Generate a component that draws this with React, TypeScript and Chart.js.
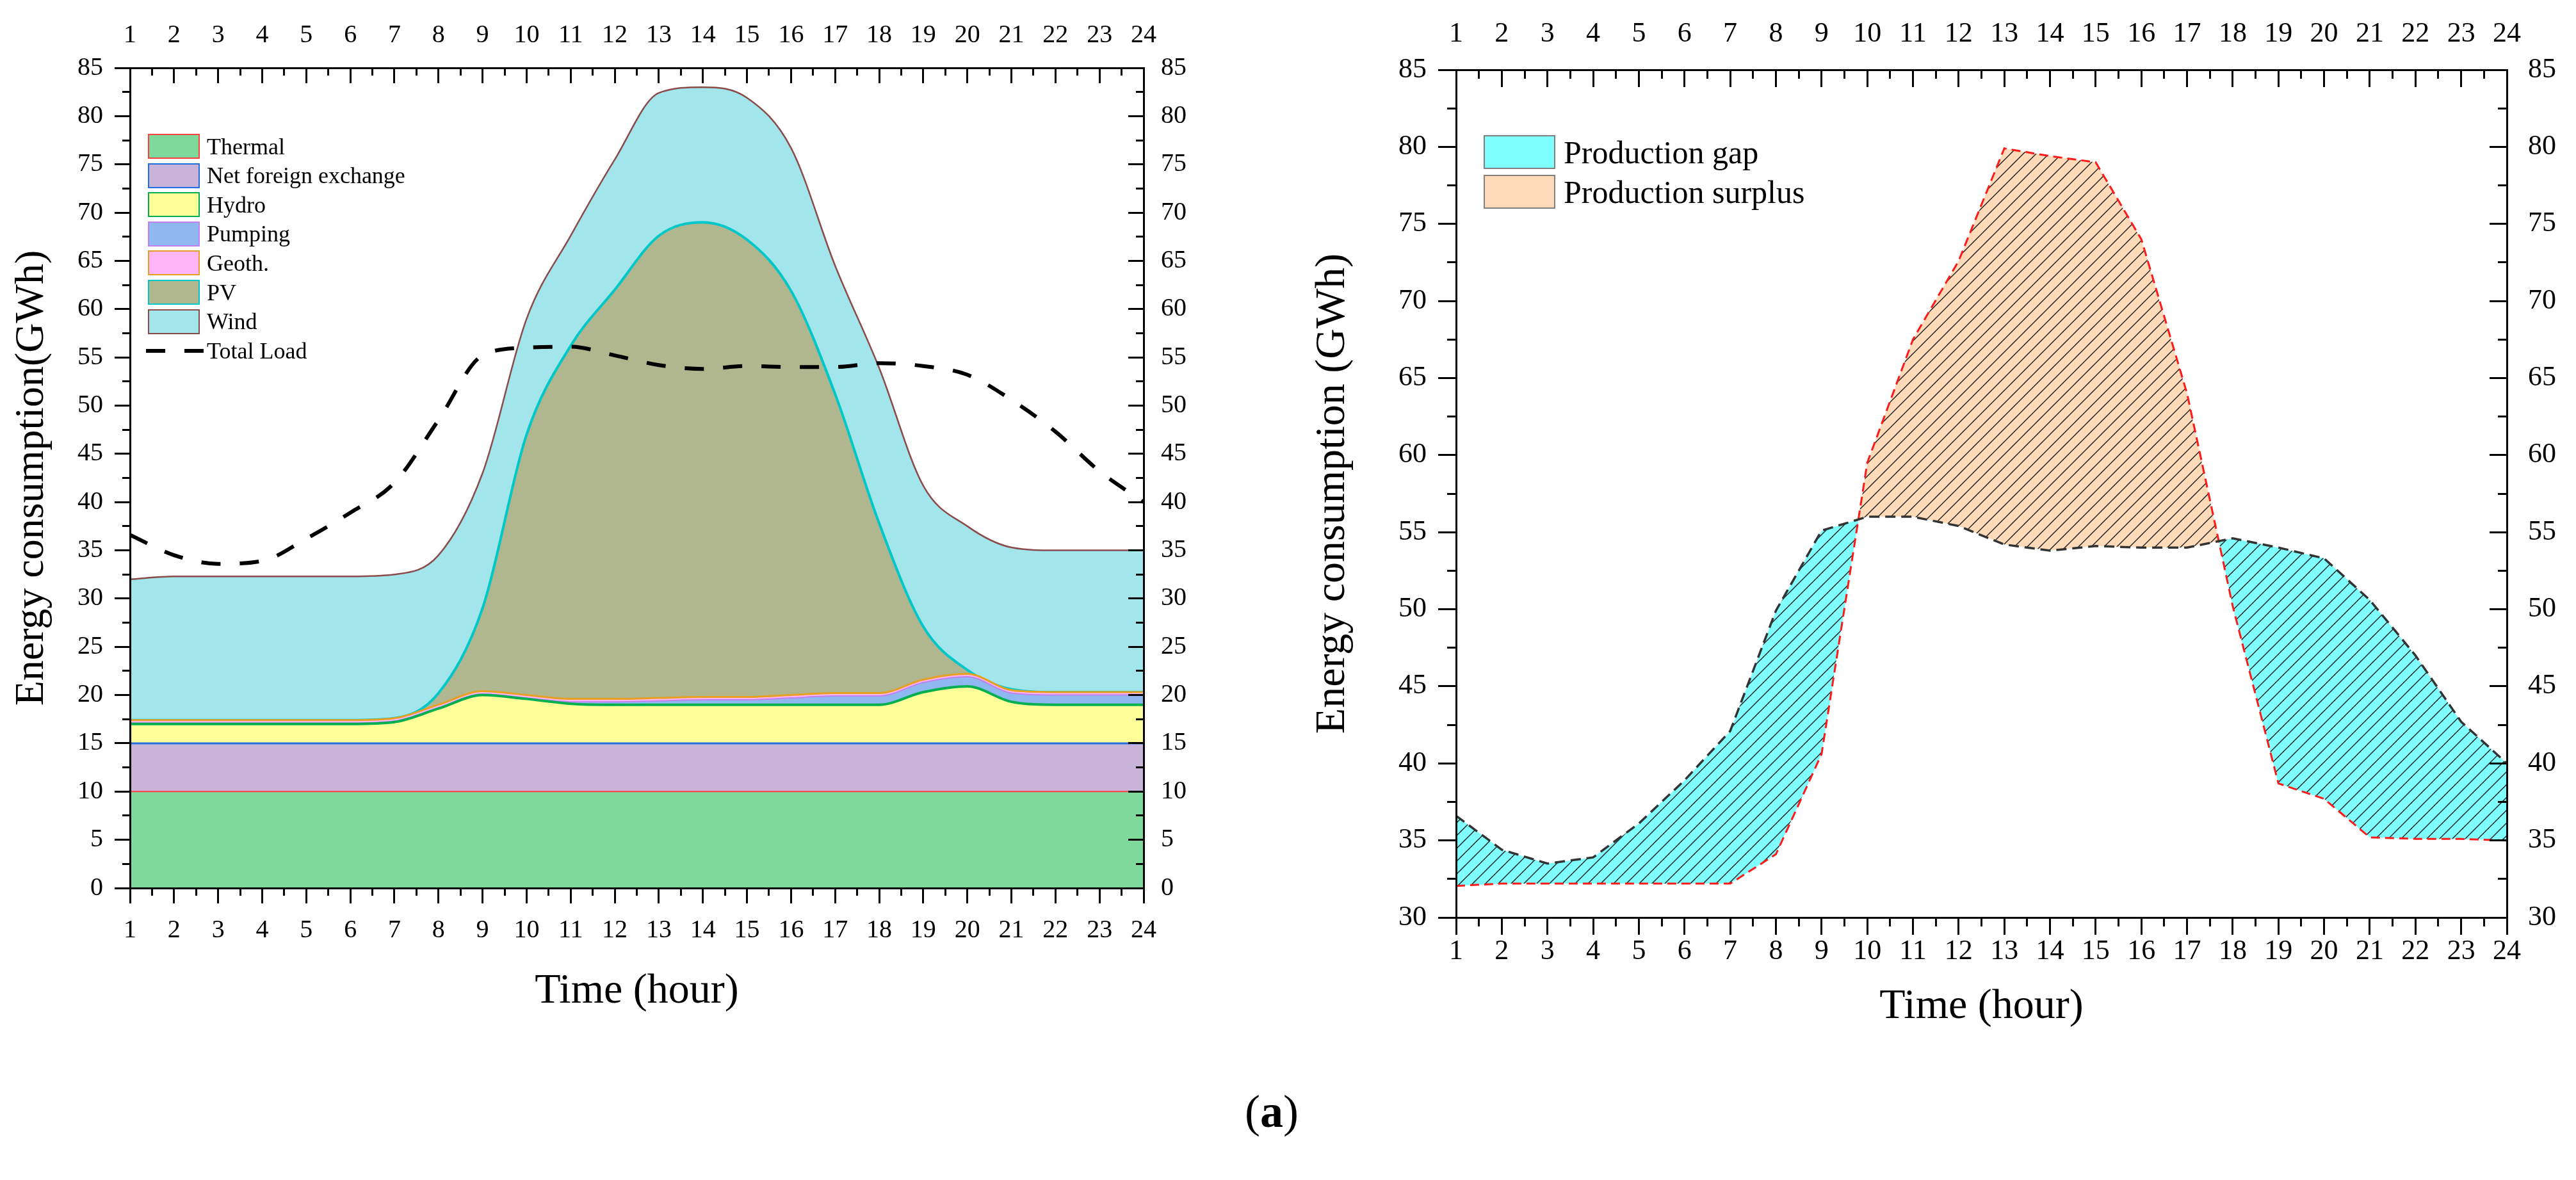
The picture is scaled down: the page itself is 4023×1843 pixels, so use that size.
import React, { useEffect, useRef } from 'react';
import { Chart, registerables } from 'chart.js';

Chart.register(...registerables);

const SERIF = "'Liberation Serif', 'Times New Roman', serif";
Chart.defaults.font.family = SERIF;
Chart.defaults.color = '#000';

// hour of the day
const hours = [1, 2, 3, 4, 5, 6, 7, 8, 9, 10, 11, 12, 13, 14, 15, 16, 17, 18, 19, 20, 21, 22, 23, 24];

// left panel: stacked generation mix (GWh)
const thermal = [10, 10, 10, 10, 10, 10, 10, 10, 10, 10, 10, 10, 10, 10, 10, 10, 10, 10, 10, 10, 10, 10, 10, 10];
const netForeign = [5, 5, 5, 5, 5, 5, 5, 5, 5, 5, 5, 5, 5, 5, 5, 5, 5, 5, 5, 5, 5, 5, 5, 5];
const hydro = [2, 2, 2, 2, 2, 2, 2.2, 3.6, 5, 4.6, 4.1, 4, 4, 4, 4, 4, 4, 4, 5.3, 5.9, 4.3, 4, 4, 4];
const pumping = [0.1, 0.1, 0.1, 0.1, 0.1, 0.1, 0.1, 0.1, 0.1, 0.1, 0.2, 0.3, 0.4, 0.5, 0.5, 0.7, 0.9, 0.9, 1, 1, 0.9, 1, 1, 1];
const geoth = [0.3, 0.3, 0.3, 0.3, 0.3, 0.3, 0.3, 0.3, 0.3, 0.3, 0.3, 0.3, 0.3, 0.3, 0.3, 0.3, 0.3, 0.3, 0.3, 0.3, 0.3, 0.3, 0.3, 0.3];
const pv = [0, 0, 0, 0, 0, 0, 0, 1.2, 8.6, 27, 36.6, 42.4, 47.9, 49.2, 47.4, 41.9, 31, 17.6, 5.5, 0.4, 0.1, 0, 0, 0];
const wind = [14.6, 14.9, 14.9, 14.9, 14.9, 14.9, 14.9, 14.3, 14, 12, 11.4, 13.5, 14.8, 14, 14.7, 14.8, 13.3, 16.1, 14.6, 14.9, 14.7, 14.7, 14.7, 14.7];
const totalLoad = [36.6, 34.5, 33.6, 33.9, 36.2, 38.9, 42, 48.5, 55.2, 56, 56.1, 55.2, 54.2, 53.8, 54.1, 54, 54, 54.4, 54.1, 53.2, 50.6, 47.3, 43.2, 40];

// right panel: load vs production (GWh)
const loadRight = [36.6, 34.4, 33.5, 33.9, 36.1, 38.9, 42.1, 49.9, 55.1, 56, 56, 55.4, 54.2, 53.8, 54.1, 54, 54, 54.6, 54, 53.3, 50.6, 47, 42.7, 40];
const production = [32.05, 32.2, 32.2, 32.2, 32.2, 32.2, 32.2, 34.1, 40.6, 59.5, 67.5, 72.6, 79.9, 79.4, 79, 74, 64, 50.2, 38.7, 37.7, 35.2, 35.1, 35.1, 35];

const genLabels = ['Thermal', 'Net foreign exchange', 'Hydro', 'Pumping', 'Geoth.', 'PV', 'Wind'];
const genFill = ['#7fd99a', '#c8b4d8', '#ffff99', '#8fb8f0', '#ffb6f8', '#b0b68e', '#a2e6ec'];
const genLine = ['#ff4040', '#1f6fe0', '#00b050', '#c080f0', '#e8a020', '#00c8c8', '#8b4b4b'];
const genWidth = [2, 3, 4, 2, 3, 4, 2.5];

const GAP = '#80ffff';
const SURPLUS = '#ffdab9';

const pts = (v: number[]) => hours.map((h, i) => ({ x: h, y: v[i] }));

type Side = 'top' | 'bottom' | 'left' | 'right';
interface AxisSpec {
  side: Side;
  min: number;
  max: number;
  step: number;
  tick: number;
  size: number;
  inward?: boolean;
  minor?: boolean;
  labels?: boolean;
  pad?: number;
  fontSize?: number;
  title?: string;
  titleSize?: number;
  titlePad?: number;
  stacked?: boolean;
}

// one side of the Origin-style frame; minor axes have zero size and sit on the plot edge
const axis = (a: AxisSpec) => {
  const horizontal = a.side === 'top' || a.side === 'bottom';
  return {
    type: 'linear',
    position: a.side,
    min: a.min,
    max: a.max,
    stacked: a.stacked,
    weight: a.minor ? -1 : 0,
    grid: {
      display: true,
      drawOnChartArea: false,
      drawTicks: true,
      tickLength: a.inward ? -a.tick : a.tick,
      tickWidth: 3,
      tickColor: '#000',
      z: 1,
    },
    border: { display: !a.minor, color: '#000', width: 3, z: 1 },
    ticks: {
      display: !!a.labels,
      stepSize: a.step,
      autoSkip: false,
      maxRotation: 0,
      padding: a.pad ?? 0,
      color: '#000',
      font: { family: SERIF, size: a.fontSize ?? 40 },
    },
    title: a.title
      ? {
          display: true,
          text: a.title,
          color: '#000',
          font: { family: SERIF, size: a.titleSize ?? 66, lineHeight: 1.2 },
          padding: { top: a.titlePad ?? 0, bottom: a.titlePad ?? 0 },
        }
      : { display: false },
    afterFit: (s: any) => {
      if (horizontal) s.height = a.size;
      else s.width = a.size;
    },
  };
};

const hatch = (bg: string) => {
  const s = 20;
  const c = document.createElement('canvas');
  c.width = s;
  c.height = s;
  const g = c.getContext('2d')!;
  g.fillStyle = bg;
  g.fillRect(0, 0, s, s);
  g.strokeStyle = '#1a1a1a';
  g.lineWidth = 1.4;
  g.beginPath();
  g.moveTo(0, s);
  g.lineTo(s, 0);
  g.moveTo(-s / 2, s / 2);
  g.lineTo(s / 2, -s / 2);
  g.moveTo(s / 2, s * 1.5);
  g.lineTo(s * 1.5, s / 2);
  g.stroke();
  return g.createPattern(c, 'repeat')!;
};

const MixChart: React.FC = () => {
  const canvasRef = useRef<HTMLCanvasElement>(null);
  const chartRef = useRef<Chart | null>(null);

  useEffect(() => {
    const ctx = canvasRef.current?.getContext('2d');
    if (!ctx) return;
    if (chartRef.current) chartRef.current.destroy();

    const gen = [thermal, netForeign, hydro, pumping, geoth, pv, wind];

    chartRef.current = new Chart(ctx, {
      type: 'line',
      data: {
        datasets: [
          ...gen.map((v, i) => ({
            label: genLabels[i],
            data: pts(v),
            stack: 'gen',
            backgroundColor: genFill[i],
            borderColor: genLine[i],
            borderWidth: genWidth[i],
            fill: i === 0 ? 'origin' : '-1',
            pointRadius: 0,
            cubicInterpolationMode: 'monotone' as const,
          })),
          {
            label: 'Total Load',
            data: pts(totalLoad),
            stack: 'load',
            order: -1,
            borderColor: '#000',
            borderWidth: 6,
            borderDash: [30, 30],
            fill: false,
            pointRadius: 0,
            cubicInterpolationMode: 'monotone' as const,
          },
        ],
      },
      options: {
        responsive: true,
        maintainAspectRatio: false,
        animation: false,
        events: [],
        plugins: { legend: { display: false }, tooltip: { enabled: false } },
        scales: {
          xm: axis({ side: 'bottom', min: 1, max: 24, step: 0.5, tick: 12, size: 0, minor: true }),
          xtm: axis({ side: 'top', min: 1, max: 24, step: 0.5, tick: 12, size: 0, minor: true, inward: true }),
          ym: axis({ side: 'left', min: 0, max: 85, step: 2.5, tick: 12, size: 0, minor: true }),
          yrm: axis({ side: 'right', min: 0, max: 85, step: 2.5, tick: 12, size: 0, minor: true, inward: true }),
          x: axis({ side: 'bottom', min: 1, max: 24, step: 1, tick: 24, size: 213, labels: true, pad: 18, title: 'Time (hour)', titleSize: 66, titlePad: 12 }),
          xt: axis({ side: 'top', min: 1, max: 24, step: 1, tick: 24, size: 106, labels: true, pad: 51, inward: true }),
          y: axis({ side: 'left', min: 0, max: 85, step: 5, tick: 24, size: 203, labels: true, pad: 18, title: 'Energy consumption(GWh)', titleSize: 64, titlePad: 12, stacked: true }),
          yr: axis({ side: 'right', min: 0, max: 85, step: 5, tick: 24, size: 204, labels: true, pad: 51, inward: true }),
        } as any,
      },
    });

    return () => chartRef.current?.destroy();
  }, []);

  return (
    <div style={{ position: 'absolute', left: 0, top: 0, width: 1990, height: 1600 }}>
      <canvas ref={canvasRef}></canvas>
    </div>
  );
};

const GapChart: React.FC = () => {
  const canvasRef = useRef<HTMLCanvasElement>(null);
  const chartRef = useRef<Chart | null>(null);

  useEffect(() => {
    const ctx = canvasRef.current?.getContext('2d');
    if (!ctx) return;
    if (chartRef.current) chartRef.current.destroy();

    chartRef.current = new Chart(ctx, {
      type: 'line',
      data: {
        datasets: [
          {
            label: 'Load',
            data: pts(loadRight),
            borderColor: '#333',
            borderWidth: 3.5,
            borderDash: [16, 9],
            pointRadius: 0,
            tension: 0,
            fill: false,
          },
          {
            label: 'Production',
            data: pts(production),
            borderColor: '#ff1a1a',
            borderWidth: 3,
            borderDash: [14, 8],
            pointRadius: 0,
            tension: 0,
            fill: { target: 0, above: hatch(SURPLUS), below: hatch(GAP) },
          },
        ],
      },
      options: {
        responsive: true,
        maintainAspectRatio: false,
        animation: false,
        events: [],
        plugins: { legend: { display: false }, tooltip: { enabled: false } },
        scales: {
          xm: axis({ side: 'bottom', min: 1, max: 24, step: 0.5, tick: 14, size: 0, minor: true }),
          xtm: axis({ side: 'top', min: 1, max: 24, step: 0.5, tick: 14, size: 0, minor: true, inward: true }),
          ym: axis({ side: 'left', min: 30, max: 85, step: 2.5, tick: 14, size: 0, minor: true }),
          yrm: axis({ side: 'right', min: 30, max: 85, step: 2.5, tick: 14, size: 0, minor: true, inward: true }),
          x: axis({ side: 'bottom', min: 1, max: 24, step: 1, tick: 27, size: 180, labels: true, pad: 0, fontSize: 44, title: 'Time (hour)', titleSize: 66, titlePad: 1 }),
          xt: axis({ side: 'top', min: 1, max: 24, step: 1, tick: 27, size: 109, labels: true, pad: 56, fontSize: 44, inward: true }),
          y: axis({ side: 'left', min: 30, max: 85, step: 5, tick: 28, size: 274, labels: true, pad: 18, fontSize: 44, title: 'Energy consumption (GWh)', titleSize: 66, titlePad: 42 }),
          yr: axis({ side: 'right', min: 30, max: 85, step: 5, tick: 27, size: 108, labels: true, pad: 60, fontSize: 44, inward: true }),
        } as any,
      },
    });

    return () => chartRef.current?.destroy();
  }, []);

  return (
    <div style={{ position: 'absolute', left: 2000, top: 0, width: 2023, height: 1613 }}>
      <canvas ref={canvasRef}></canvas>
    </div>
  );
};

const MixLegend: React.FC = () => (
  <div style={{ position: 'absolute', left: 228, top: 209, fontFamily: SERIF, fontSize: 36, color: '#000' }}>
    {genLabels.map((t, i) => (
      <div key={t} style={{ position: 'absolute', left: 3, top: i * 45.6, height: 39, display: 'flex', alignItems: 'center', whiteSpace: 'nowrap' }}>
        <div style={{ width: 81, height: 39, boxSizing: 'border-box', border: `2.5px solid ${genLine[i]}`, background: genFill[i] }} />
        <span style={{ marginLeft: 11 }}>{t}</span>
      </div>
    ))}
    <div style={{ position: 'absolute', left: 0, top: 7 * 45.6, height: 39, display: 'flex', alignItems: 'center', whiteSpace: 'nowrap' }}>
      <div style={{ width: 30, height: 6, background: '#000' }} />
      <div style={{ width: 30, height: 6 }} />
      <div style={{ width: 30, height: 6, background: '#000' }} />
      <span style={{ marginLeft: 5 }}>Total Load</span>
    </div>
  </div>
);

const GapLegend: React.FC = () => (
  <div style={{ position: 'absolute', left: 2317, top: 211, fontFamily: SERIF, fontSize: 50, color: '#000' }}>
    {[
      ['Production gap', GAP],
      ['Production surplus', SURPLUS],
    ].map(([t, c], i) => (
      <div key={t} style={{ position: 'absolute', left: 0, top: i * 62, height: 53, display: 'flex', alignItems: 'center', whiteSpace: 'nowrap' }}>
        <div style={{ width: 112, height: 53, boxSizing: 'border-box', border: '2px solid #808080', background: c }} />
        <span style={{ marginLeft: 13 }}>{t}</span>
      </div>
    ))}
  </div>
);

export default function App() {
  return (
    <div style={{ position: 'absolute', left: 0, top: 0, width: 4023, height: 1843, background: '#fff', overflow: 'hidden' }}>
      <MixChart />
      <GapChart />
      <MixLegend />
      <GapLegend />
      <div
        style={{
          position: 'absolute',
          left: 1986,
          top: 1736,
          transform: 'translate(-50%, -50%)',
          fontFamily: SERIF,
          fontSize: 72,
          lineHeight: 1,
          color: '#000',
        }}
      >
        (<b>a</b>)
      </div>
    </div>
  );
}
